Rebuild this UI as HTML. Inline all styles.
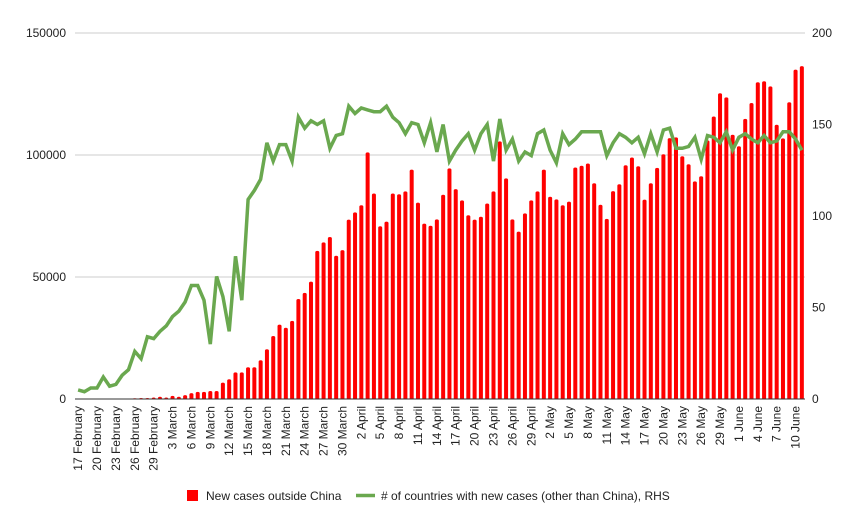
<!DOCTYPE html>
<html><head><meta charset="utf-8">
<style>
html,body{margin:0;padding:0;background:#fff;}
svg{display:block;font-family:"Liberation Sans",Arial,sans-serif;}
</style></head>
<body>
<svg id="chart" width="861" height="530" viewBox="0 0 861 530" xmlns="http://www.w3.org/2000/svg">
<rect width="861" height="530" fill="#fff"/>
<g id="grid"></g><g id="bars"></g><g id="line"></g><g id="axes"></g>
<g id="legend">
  <rect x="187" y="490" width="11" height="11" fill="#ff0000"/>
  <text x="206" y="500" font-size="12" fill="#222">New cases outside China</text>
  <line x1="356" y1="495.5" x2="375" y2="495.5" stroke="#6aa84f" stroke-width="3.5"/>
  <text x="381" y="500" font-size="12" fill="#222"># of countries with new cases (other than China), RHS</text>
</g>
</svg>
<script>
const monthNames = ["February","March","April","May","June"];
const monthStartDay = [17,1,1,1,1];
const monthDays = [29,31,30,31,11];
const categories = [];
for (let m = 0; m < monthNames.length; m++) {
  for (let d = monthStartDay[m]; d <= monthDays[m]; d++) categories.push(d + " " + monthNames[m]);
}
const newCases = [0.05,0.05,0.05,0.1,0.1,0.1,0.2,0.2,0.2,
0.3,0.4,0.4,0.6,0.9,0.6,1.3,0.9,1.6,2.4,2.9,2.9,3.3,3.3,
6.7,8.1,10.9,10.9,13,13,15.9,20.4,25.8,30.5,29.2,32,41,43.5,48.1,60.7,64.2,66.4,58.7,61,73.5,76.5,
79.4,101.1,84.2,70.8,72.7,84.2,83.9,85.1,94,80.5,71.9,71,73.6,83.7,94.5,86,81.4,75.3,73.5,74.7,80.1,85.1,105.6,90.4,73.6,68.6,76.1,81.4,85.1,94,82.9,81.8,79.4,80.9,94.9,95.6,96.5,
88.4,79.6,73.8,85.2,88,95.8,99,95.4,81.7,88.4,94.7,100.3,106.9,107.2,99.5,96.2,89.2,91.3,106,115.8,125.3,123.6,108.3,103.6,114.8,121.3,129.8,130.2,128.1,112.4,106.8,121.6,135,136.4].map(v=>v*1000);
const countries = [5,4,6,6,12,7,8,13,16,26,22,34,33,37,40,45,48,53,62,62,54,30,67,56,37,78,54,109,114,120,140,130,139,139,130,
154,148,152,150,152,137,144,145,160,156,159,158,157,157,160,154,151,145,151,150,140,151,135,150,130,136,141,145,136,145,150,130,153,136,142,130,135,133,145,147,136,129,145,139,142,146,146,
146,146,133,140,145,143,140,143,134,145,135,147,148,137,137,138,143,131,144,143,140,146,136,143,145,142,140,144,140,141,146,146,142,136];
const leftTicks = [0,50000,100000,150000];
const rightTicks = [0,50,100,150,200];

const NS="http://www.w3.org/2000/svg";
const X0=75, X1=805, Y0=399, Y1=33;
const n=categories.length, band=(X1-X0)/n;
const xPos=i=>X0+band*(i+0.5);
const yL=v=>Y0-(v/150000)*(Y0-Y1);
const yR=v=>Y0-(v/200)*(Y0-Y1);
function mk(tag,attrs,parent){const e=document.createElementNS(NS,tag);for(const k in attrs)e.setAttribute(k,attrs[k]);parent.appendChild(e);return e;}
const grid=document.getElementById('grid'),bars=document.getElementById('bars'),lineG=document.getElementById('line'),axes=document.getElementById('axes');

leftTicks.forEach(t=>{
  if(t>0){const g=mk('line',{x1:X0,x2:X1,y1:yL(t),y2:yL(t),stroke:'#cccccc','stroke-width':1},grid);
  
  }
  const tx=mk('text',{x:66,y:yL(t)+4,'text-anchor':'end','font-size':12,fill:'#222'},axes);
  tx.textContent=t;
  
  
});
rightTicks.forEach(t=>{
  const tx=mk('text',{x:812,y:yR(t)+4,'text-anchor':'start','font-size':12,fill:'#222'},axes);
  tx.textContent=t;
  
  
});
newCases.forEach((v,i)=>{
  const w=4, x=xPos(i)-w/2, y=yL(v), h=Math.max(Y0-y,0.5);
  const r=mk('path',{d:`M${x},${Y0} V${y+Math.min(1.5,h)} Q${x},${y} ${x+w/2},${y} Q${x+w},${y} ${x+w},${y+Math.min(1.5,h)} V${Y0} Z`,fill:'#ff0000'},bars);
  
  
});
const pl=mk('polyline',{points:countries.map((v,i)=>xPos(i).toFixed(1)+','+yR(v).toFixed(1)).join(' '),fill:'none',stroke:'#6aa84f','stroke-width':3.5,'stroke-linejoin':'miter'},lineG);


const base=mk('line',{x1:X0,x2:X1,y1:Y0,y2:Y0,stroke:'#333','stroke-width':1},axes);


categories.forEach((c,i)=>{
  if(i%3!==0)return;
  const x=xPos(i)+4, y=406;
  const t=mk('text',{x:x,y:y,transform:`rotate(-90 ${x} ${y})`,'text-anchor':'end','font-size':12,fill:'#222'},axes);
  t.textContent=c;
  
  
});
</script>
</body></html>
